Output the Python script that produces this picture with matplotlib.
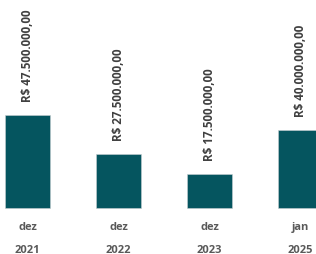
import matplotlib
matplotlib.use("Agg")
import matplotlib.pyplot as plt

# data
months = ["dez", "dez", "dez", "jan"]
years = ["2021", "2022", "2023", "2025"]
values = [47_500_000, 27_500_000, 17_500_000, 40_000_000]

BAR_COLOR = "#05555F"
TEXT_COLOR = "#404040"
TICK_COLOR = "#595959"


def brl(v):
    s = f"{v:,.2f}"
    s = s.replace(",", "X").replace(".", ",").replace("X", ".")
    return f"R$ {s}"


plt.rcParams["font.family"] = ["Open Sans", "DejaVu Sans"]

fig = plt.figure(figsize=(3.16, 2.55), dpi=100)
ax = fig.add_axes([0.0, 0.18, 1.0, 0.82])

x = list(range(len(values)))
ax.bar(x, values, width=0.5, color=BAR_COLOR, edgecolor="#c8d0d2", linewidth=0.4, clip_on=False)

for xi, v in zip(x, values):
    ax.annotate(
        brl(v),
        xy=(xi, v),
        xytext=(0, 10),
        textcoords="offset points",
        rotation=90,
        ha="center",
        va="bottom",
        fontsize=8.4,
        fontweight="bold",
        color=TEXT_COLOR,
    )

ax.set_xlim(-0.302, 3.17)
ax.set_ylim(0, 106.7e6)
ax.set_xticks(x)
ax.set_xticklabels(months, fontsize=8, fontweight="bold", color=TICK_COLOR)
ax.tick_params(axis="x", length=0, pad=9)
for xi, yr in zip(x, years):
    ax.annotate(yr, xy=(xi, 0), xycoords=("data", "axes fraction"),
                xytext=(0, -30), textcoords="offset points",
                ha="center", va="center", fontsize=8, fontweight="bold",
                color=TICK_COLOR, annotation_clip=False)
ax.set_yticks([])
for spine in ax.spines.values():
    spine.set_visible(False)

fig.savefig("out.png", dpi=100)
